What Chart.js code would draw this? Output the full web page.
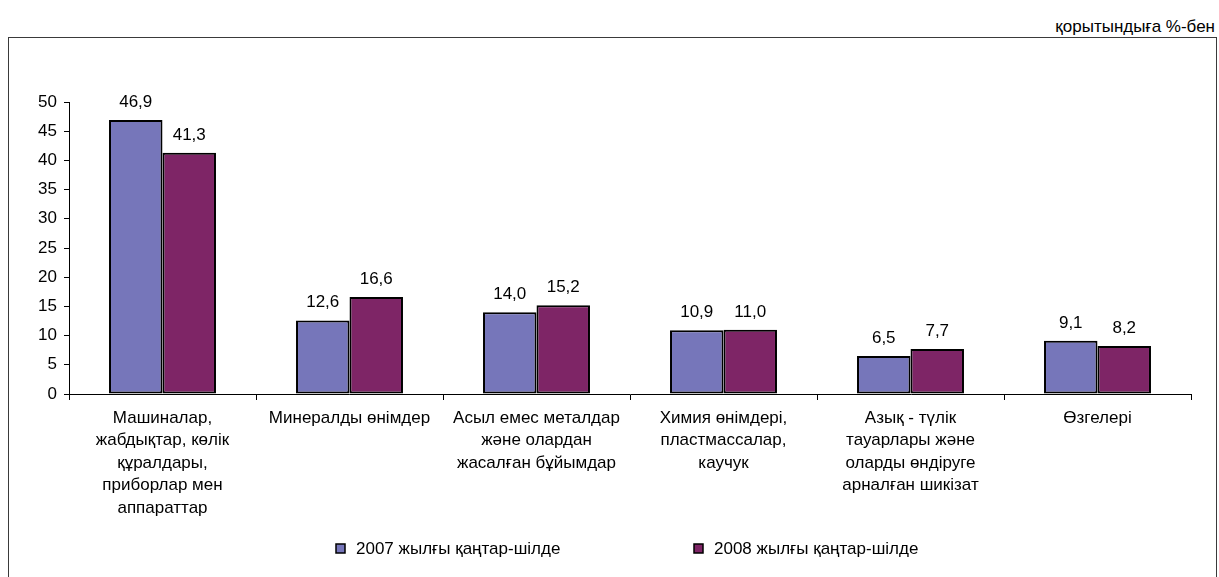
<!DOCTYPE html>
<html>
<head>
<meta charset="utf-8">
<script src="https://cdn.jsdelivr.net/npm/chart.js@4.4.0/dist/chart.umd.min.js"></script>
<style>
  html, body { margin: 0; padding: 0; background: #fff; overflow: hidden; }
  #wrap { position: relative; width: 1219px; height: 577px; }
  #frame { position: absolute; left: 8px; top: 37px; width: 1209px; height: 600px; border: 1px solid #3a3a3a; box-sizing: border-box; }
  #unit { position: absolute; right: 4px; top: 17px; font: 17px "Liberation Sans", Arial, sans-serif; color: #000; }
  canvas { position: absolute; left: 0; top: 0; }
</style>
</head>
<body>
<div id="wrap">
  <div id="frame"></div>
  <div id="unit">қорытындыға %-бен</div>
  <canvas id="chart" width="1219" height="577"></canvas>
</div>
<script>
// санаттар мен мәндер
const categories = [
    ["Машиналар,", "жабдықтар, көлік", "құралдары,", "приборлар мен", "аппараттар"],
    ["Минералды өнімдер"],
    ["Асыл емес металдар", "және олардан", "жасалған бұйымдар"],
    ["Химия өнімдері,", "пластмассалар,", "каучук"],
    ["Азық - түлік", "тауарлары және", "оларды өндіруге", "арналған шикізат"],
    ["Өзгелері"]
];
const series2007 = [46.9, 12.6, 14.0, 10.9, 6.5, 9.1];
const series2008 = [41.3, 16.6, 15.2, 11.0, 7.7, 8.2];
const seriesNames = ["2007 жылғы қаңтар-шілде", "2008 жылғы қаңтар-шілде"];
const yTicks = [0, 5, 10, 15, 20, 25, 30, 35, 40, 45, 50];

const FONT = '"Liberation Sans", Arial, sans-serif';

// бағандардың үстіндегі сандар
const valueLabels = {
    id: 'valueLabels',
    afterDatasetsDraw(chart) {
        const ctx = chart.ctx;
        ctx.save();
        ctx.font = '17px ' + FONT;
        ctx.fillStyle = '#000';
        ctx.textAlign = 'center';
        ctx.textBaseline = 'alphabetic';
        chart.data.datasets.forEach((ds, i) => {
            chart.getDatasetMeta(i).data.forEach((bar, j) => {
                const txt = ds.data[j].toFixed(1).replace('.', ',');
                ctx.fillText(txt, bar.x, bar.y - 13);
            });
        });
        ctx.restore();
    }
};

// төменгі легенда
const bottomLegend = {
    id: 'bottomLegend',
    afterDraw(chart) {
        const ctx = chart.ctx;
        const xs = [336, 694];
        const y = 549;
        ctx.save();
        ctx.font = '17px ' + FONT;
        ctx.textBaseline = 'middle';
        ctx.textAlign = 'left';
        chart.data.datasets.forEach((ds, i) => {
            ctx.fillStyle = ds.backgroundColor;
            ctx.fillRect(xs[i], y - 5, 9, 9);
            ctx.strokeStyle = '#000';
            ctx.lineWidth = 1.5;
            ctx.strokeRect(xs[i], y - 5, 9, 9);
            ctx.fillStyle = '#000';
            ctx.fillText(ds.label, xs[i] + 20, y);
        });
        ctx.restore();
    }
};

new Chart(document.getElementById('chart'), {
    type: 'bar',
    data: {
        labels: categories,
        datasets: [
            { label: seriesNames[0], data: series2007, backgroundColor: '#7676BA', borderColor: '#000', borderWidth: 2, borderSkipped: false },
            { label: seriesNames[1], data: series2008, backgroundColor: '#7E2566', borderColor: '#000', borderWidth: 2, borderSkipped: false }
        ]
    },
    options: {
        responsive: false,
        devicePixelRatio: 1,
        animation: false,
        layout: { padding: { left: 0, top: 102, right: 28, bottom: 0 } },
        datasets: { bar: { barPercentage: 1, categoryPercentage: 0.572 } },
        plugins: { legend: { display: false }, tooltip: { enabled: false } },
        scales: {
            x: {
                grid: { offset: true, drawOnChartArea: false, drawTicks: true, tickLength: 6, color: '#000' },
                border: { display: true, color: '#000', width: 1 },
                ticks: { color: '#000', font: { size: 17, family: FONT, lineHeight: 1.32 }, padding: 7, maxRotation: 0, autoSkip: false },
                afterFit(scale) { scale.height = 183; }
            },
            y: {
                min: 0, max: 50,
                afterBuildTicks(scale) { scale.ticks = yTicks.map(v => ({ value: v })); },
                grid: { drawOnChartArea: false, drawTicks: true, tickLength: 5, color: '#000' },
                border: { display: true, color: '#000', width: 1 },
                ticks: { color: '#000', font: { size: 17, family: FONT }, padding: 7 },
                afterFit(scale) { scale.width = 69; }
            }
        }
    },
    plugins: [valueLabels, bottomLegend]
});
</script>
</body>
</html>
